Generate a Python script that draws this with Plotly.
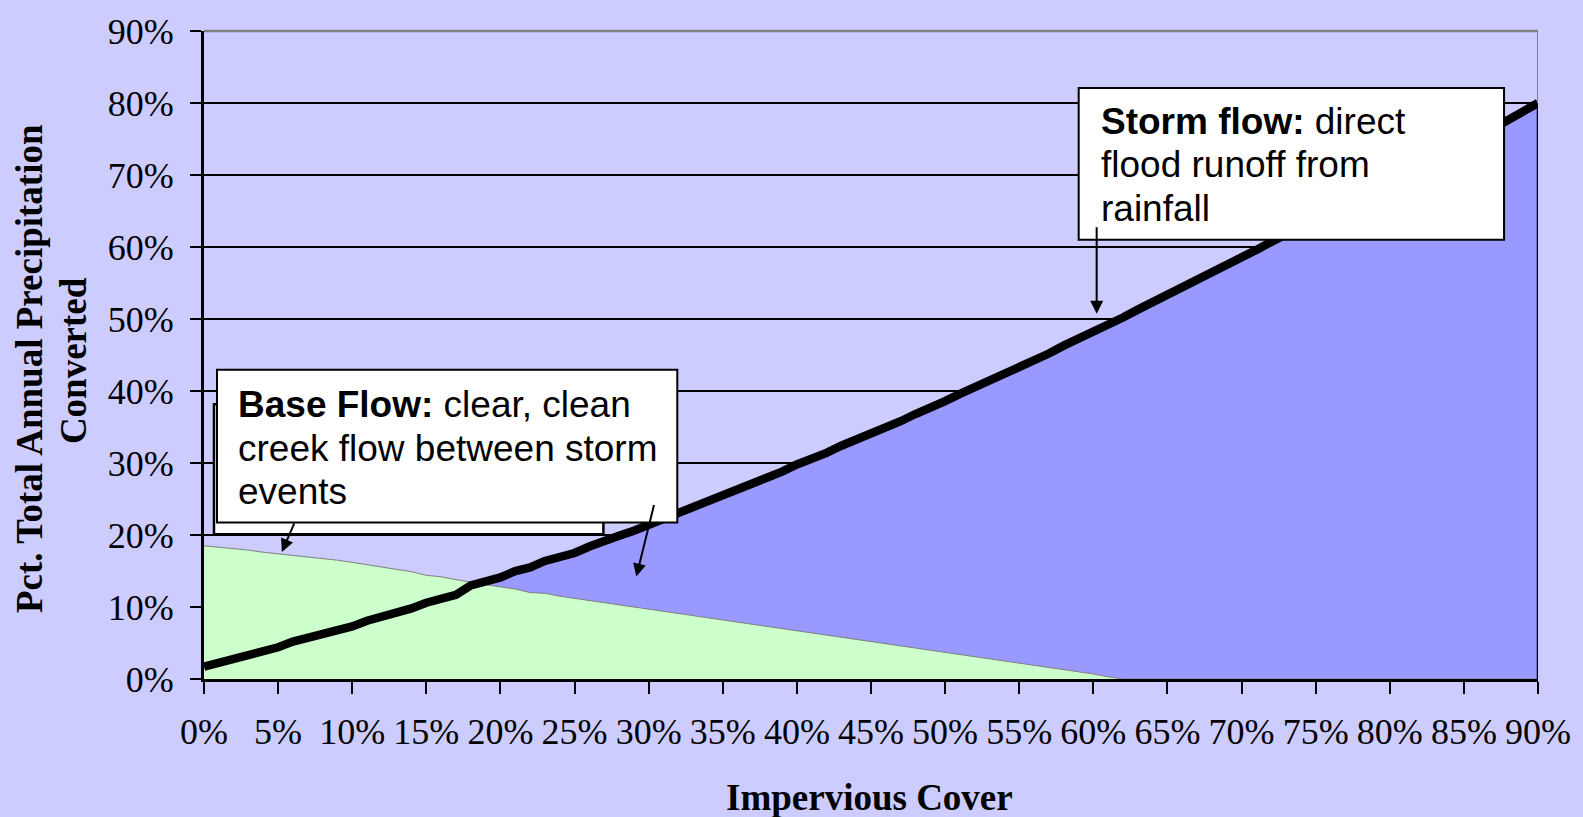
import plotly.graph_objects as go

# Impervious cover (%), 1% steps
impervious = list(range(0, 91))

# Storm flow (% of total annual precipitation)
storm_flow = [1.7, 2.2, 2.7, 3.3, 3.8, 4.4, 5.2, 5.7, 6.3, 6.8,
              7.3, 8.1, 8.6, 9.3, 9.8, 10.6, 11.1, 11.7, 13.0, 13.5,
              14.1, 15.0, 15.5, 16.4, 16.9, 17.5, 18.4, 19.0, 19.9, 20.6,
              21.4, 22.2, 22.9, 24.0, 24.6, 25.4, 26.2, 27.1, 28.0, 28.8,
              29.8, 30.5, 31.4, 32.4, 33.2, 34.1, 35.0, 35.8, 36.8, 37.6,
              38.6, 39.6, 40.5, 41.4, 42.3, 43.3, 44.2, 45.2, 46.3, 47.2,
              48.2, 49.0, 50.2, 51.3, 52.3, 53.3, 54.3, 55.3, 56.5, 57.5,
              58.5, 59.6, 60.7, 61.7, 62.8, 63.9, 64.9, 66.0, 67.1, 68.1,
              69.2, 70.2, 71.3, 72.3, 73.3, 74.4, 75.4, 76.5, 77.6, 78.9,
              80.0]

# Base flow (% of total annual precipitation)
base_flow = [18.5, 18.3, 18.2, 17.9, 17.6, 17.4, 17.2, 16.9, 16.7, 16.5,
             16.2, 15.9, 15.6, 15.3, 14.9, 14.4, 14.2, 13.8, 13.4, 13.1,
             12.8, 12.5, 12.0, 11.9, 11.5, 11.2, 10.8, 10.6, 10.2, 10.0,
             9.7, 9.4, 9.0, 8.7, 8.5, 8.2, 7.9, 7.5, 7.3, 7.0,
             6.7, 6.4, 6.0, 5.8, 5.4, 5.1, 4.8, 4.5, 4.2, 4.0,
             3.7, 3.3, 3.0, 2.8, 2.5, 2.2, 1.9, 1.5, 1.3, 1.0,
             0.7, 0.3, 0.0, 0.0, 0.0, 0.0, 0.0, 0.0, 0.0, 0.0,
             0.0, 0.0, 0.0, 0.0, 0.0, 0.0, 0.0, 0.0, 0.0, 0.0,
             0.0, 0.0, 0.0, 0.0, 0.0, 0.0, 0.0, 0.0, 0.0, 0.0,
             0.0]

x_ticks = list(range(0, 91, 5))
y_ticks = list(range(0, 91, 10))

x_title = "Impervious Cover"
y_title_1 = "Pct. Total Annual Precipitation"
y_title_2 = "Converted"

storm_lines = ["<b>Storm flow:</b> direct", "flood runoff from", "rainfall"]
base_lines = ["<b>Base Flow:</b> clear, clean", "creek flow between storm", "events"]

BG = "#CCCCFF"
STORM_FILL = "#9999FF"
BASE_FILL = "#CCFFCC"
SERIF = "Liberation Serif, Times New Roman, serif"
SANS = "Liberation Sans, Arial, sans-serif"

fig = go.Figure()

fig.add_trace(go.Scatter(x=impervious, y=storm_flow, mode="lines",
                         line=dict(width=0, color=STORM_FILL),
                         fill="tozeroy", fillcolor=STORM_FILL,
                         hoverinfo="skip", showlegend=False))
fig.add_trace(go.Scatter(x=impervious, y=base_flow, mode="lines",
                         line=dict(width=1, color="#808080"),
                         fill="tozeroy", fillcolor=BASE_FILL,
                         hoverinfo="skip", showlegend=False))
fig.add_trace(go.Scatter(x=impervious, y=storm_flow, mode="lines",
                         line=dict(width=8.5, color="black"),
                         hoverinfo="skip", showlegend=False))

W, H = 1583, 817
L, R, T, B = 204, 43, 21, 138
PW, PH = W - L - R, H - T - B


def px(xp):
    return (xp - L) / PW


def py(yp):
    return (H - B - yp) / PH


shapes = [
    # top and right border of the plot area
    dict(type="line", xref="paper", yref="paper", x0=0, x1=1, y0=1, y1=1,
         line=dict(color="#808080", width=2.5), layer="above"),
    dict(type="line", xref="x", yref="y", x0=90, x1=90,
         y0=storm_flow[-1], y1=90, line=dict(color="#808080", width=2), layer="above"),
    dict(type="line", xref="x", yref="y", x0=90, x1=90,
         y0=0, y1=storm_flow[-1], line=dict(color="black", width=2.5), layer="above"),
    # base flow callout (rear box)
    dict(type="rect", xref="paper", yref="paper",
         x0=px(214), x1=px(604), y0=py(532), y1=py(400),
         fillcolor="white", line=dict(color="black", width=2.5), layer="above"),
    # base flow callout (front box)
    dict(type="rect", xref="paper", yref="paper",
         x0=px(217), x1=px(678), y0=py(520), y1=py(365),
         fillcolor="white", line=dict(color="black", width=2), layer="above"),
    # storm flow callout
    dict(type="rect", xref="paper", yref="paper",
         x0=px(1080), x1=px(1506), y0=py(233), y1=py(79),
         fillcolor="white", line=dict(color="black", width=2), layer="above"),
]

annotations = []
for t, yc in zip(storm_lines, [113, 157, 201]):
    annotations.append(dict(xref="paper", yref="paper", x=px(1100), y=py(yc),
                            xanchor="left", yanchor="middle", text=t, showarrow=False,
                            font=dict(family=SANS, size=37, color="black")))
for t, yc in zip(base_lines, [400, 445, 489]):
    annotations.append(dict(xref="paper", yref="paper", x=px(236), y=py(yc),
                            xanchor="left", yanchor="middle", text=t, showarrow=False,
                            font=dict(family=SANS, size=37, color="black")))

# arrows
for tip, tail in [((1098, 308), (1098, 220)),
                  ((282, 550), (295, 520)),
                  ((637, 575), (655, 502))]:
    annotations.append(dict(xref="paper", yref="paper", x=px(tip[0]), y=py(tip[1]),
                            ax=tail[0] - tip[0], ay=tail[1] - tip[1],
                            axref="pixel", ayref="pixel", text="", showarrow=True,
                            arrowhead=2, arrowsize=1.3, arrowwidth=2, arrowcolor="black",
                            standoff=0, startstandoff=0))

# axis titles
annotations.append(dict(xref="paper", yref="paper", x=px(870), y=py(799),
                        xanchor="center", yanchor="middle", text=f"<b>{x_title}</b>",
                        showarrow=False, font=dict(family=SERIF, size=37, color="black")))
annotations.append(dict(xref="paper", yref="paper", x=px(30), y=py(364),
                        xanchor="center", yanchor="middle", text=f"<b>{y_title_1}</b>",
                        textangle=-90, showarrow=False,
                        font=dict(family=SERIF, size=37, color="black")))
annotations.append(dict(xref="paper", yref="paper", x=px(74), y=py(356),
                        xanchor="center", yanchor="middle", text=f"<b>{y_title_2}</b>",
                        textangle=-90, showarrow=False,
                        font=dict(family=SERIF, size=37, color="black")))

fig.update_layout(
    width=W, height=H,
    margin=dict(l=L, r=R, t=T, b=B),
    paper_bgcolor=BG, plot_bgcolor=BG,
    showlegend=False,
    shapes=shapes,
    annotations=annotations,
    xaxis=dict(range=[0, 90], tickvals=x_ticks, ticktext=[f"{v}%" for v in x_ticks],
               showgrid=False, zeroline=False, showline=True, linecolor="black", linewidth=3,
               ticks="outside", ticklen=12, tickwidth=2, tickcolor="black",
               tickfont=dict(family=SERIF, size=36, color="black"),
               ticklabelstandoff=7, fixedrange=True),
    yaxis=dict(range=[0, 90], tickvals=y_ticks, ticktext=[f"{v}%" for v in y_ticks],
               showgrid=True, gridcolor="black", gridwidth=2,
               zeroline=False, showline=True, linecolor="black", linewidth=3,
               ticks="outside", ticklen=11, tickwidth=2, tickcolor="black",
               tickfont=dict(family=SERIF, size=36, color="black"),
               ticklabelstandoff=9, fixedrange=True),
)

fig.write_html("out.html", config={"displayModeBar": False},
               post_script="document.body.style.margin='0px';document.body.style.background='#CCCCFF';")
